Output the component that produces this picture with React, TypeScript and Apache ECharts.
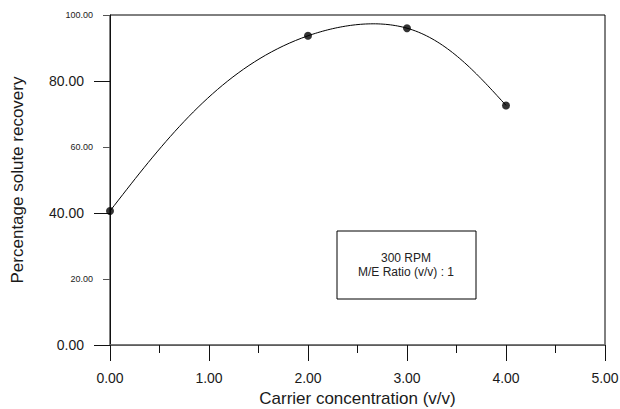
import React, { useEffect, useRef } from "react";
import * as echarts from "echarts";

const carrierConc = [0, 2, 3, 4];
const recovery = [40.6, 93.7, 96.0, 72.6];
const yMajorTicks = [0, 40, 80];
const yMinorTicks = [20, 60, 100];
const boxLines = ["300 RPM", "M/E Ratio (v/v) : 1"];
const xTitle = "Carrier concentration (v/v)";
const yTitle = "Percentage solute recovery";

const FONT = "'Liberation Sans', Arial, sans-serif";

// natural cubic spline second derivatives for knots t and values v
function naturalM(t: number[], v: number[]): number[] {
  const n = t.length;
  const M = new Array(n).fill(0);
  if (n < 3) return M;
  const h: number[] = [];
  for (let i = 0; i < n - 1; i++) h.push(t[i + 1] - t[i]);
  const a: number[] = [], b: number[] = [], c: number[] = [], d: number[] = [];
  for (let i = 1; i < n - 1; i++) {
    a.push(h[i - 1]);
    b.push(2 * (h[i - 1] + h[i]));
    c.push(h[i]);
    d.push(6 * ((v[i + 1] - v[i]) / h[i] - (v[i] - v[i - 1]) / h[i - 1]));
  }
  const m = b.length;
  for (let i = 1; i < m; i++) {
    const w = a[i] / b[i - 1];
    b[i] -= w * c[i - 1];
    d[i] -= w * d[i - 1];
  }
  const x = new Array(m).fill(0);
  x[m - 1] = d[m - 1] / b[m - 1];
  for (let i = m - 2; i >= 0; i--) x[i] = (d[i] - c[i] * x[i + 1]) / b[i];
  for (let i = 0; i < m; i++) M[i + 1] = x[i];
  return M;
}

// parametric (chord-length) natural cubic spline through pixel points
function splinePixels(pts: number[][]): number[][] {
  const t = [0];
  for (let i = 1; i < pts.length; i++) {
    const dx = pts[i][0] - pts[i - 1][0];
    const dy = pts[i][1] - pts[i - 1][1];
    t.push(t[i - 1] + Math.sqrt(dx * dx + dy * dy));
  }
  const xs = pts.map((p) => p[0]);
  const ys = pts.map((p) => p[1]);
  const Mx = naturalM(t, xs);
  const My = naturalM(t, ys);
  const out: number[][] = [];
  const evalSeg = (v: number[], M: number[], i: number, u: number, h: number) =>
    (M[i] * h * h * (1 - u) ** 3) / 6 +
    (M[i + 1] * h * h * u ** 3) / 6 +
    (v[i] - (M[i] * h * h) / 6) * (1 - u) +
    (v[i + 1] - (M[i + 1] * h * h) / 6) * u;
  for (let i = 0; i < pts.length - 1; i++) {
    const h = t[i + 1] - t[i];
    const steps = 40;
    for (let s = i === 0 ? 0 : 1; s <= steps; s++) {
      const u = s / steps;
      out.push([evalSeg(xs, Mx, i, u, h), evalSeg(ys, My, i, u, h)]);
    }
  }
  return out;
}

export default function App() {
  const ref = useRef<HTMLDivElement>(null);
  useEffect(() => {
    if (!ref.current) return;
    const chart = echarts.init(ref.current, undefined, { renderer: "svg" });
    const data = carrierConc.map((x, i) => [x, recovery[i]]);
    chart.setOption({
      animation: false,
      backgroundColor: "#ffffff",
      textStyle: { fontFamily: FONT },
      grid: {
        left: 110,
        right: 15,
        top: 15,
        bottom: 64,
        show: true,
        borderColor: "#000",
        borderWidth: 1,
        containLabel: false,
        outerBoundsMode: "none",
      },
      xAxis: [
        {
          type: "value",
          min: 0,
          max: 5,
          interval: 1,
          name: xTitle,
          nameLocation: "middle",
          nameGap: 42,
          nameTextStyle: { fontSize: 17, color: "#1a1a1a", fontFamily: FONT },
          axisLine: { show: true, lineStyle: { color: "#111", width: 1 } },
          axisTick: { show: true, length: 16, lineStyle: { color: "#111" } },
          minorTick: { show: true, splitNumber: 2, length: 8, lineStyle: { color: "#111" } },
          axisLabel: {
            margin: 26,
            fontSize: 14,
            color: "#1a1a1a",
            fontFamily: FONT,
            formatter: (v: number) => v.toFixed(2),
          },
          splitLine: { show: false },
        },
        {
          type: "value",
          position: "top",
          min: 0,
          max: 5,
          axisLine: { show: true, lineStyle: { color: "#777", width: 1.5 } },
          axisTick: { show: false },
          axisLabel: { show: false },
          splitLine: { show: false },
        },
      ],
      yAxis: [
        {
          type: "value",
          position: "left",
          min: 0,
          max: 100,
          interval: 20,
          name: yTitle,
          nameLocation: "middle",
          nameGap: 84,
          nameRotate: 90,
          nameTextStyle: { fontSize: 17, color: "#1a1a1a", fontFamily: FONT },
          axisLine: { show: true, lineStyle: { color: "#111", width: 1 } },
          axisTick: { show: true, length: 7, customValues: yMinorTicks, lineStyle: { color: "#555" } },
          axisLabel: {
            customValues: yMinorTicks,
            margin: 17,
            fontSize: 9,
            color: "#222",
            fontFamily: FONT,
            formatter: (v: number) => v.toFixed(2),
          },
          splitLine: { show: false },
        },
        {
          type: "value",
          position: "left",
          offset: 0,
          min: 0,
          max: 100,
          interval: 20,
          axisLine: { show: false },
          axisTick: { show: true, length: 16, customValues: yMajorTicks, lineStyle: { color: "#111" } },
          axisLabel: {
            customValues: yMajorTicks,
            margin: 26,
            fontSize: 14,
            color: "#1a1a1a",
            fontFamily: FONT,
            formatter: (v: number) => v.toFixed(2),
          },
          splitLine: { show: false },
        },
      ],
      series: [
        {
          type: "custom",
          data,
          clip: false,
          renderItem: (params: any, api: any) => {
            if (params.dataIndex !== 0) return null;
            const pix = carrierConc.map((x, i) => api.coord([x, recovery[i]]));
            const pts = splinePixels(pix);
            return {
              type: "polyline",
              shape: { points: pts },
              style: { stroke: "#000", lineWidth: 1, fill: "none" },
              silent: true,
            };
          },
          z: 2,
        },
        {
          type: "scatter",
          data,
          clip: false,
          symbol: "circle",
          symbolSize: 8,
          itemStyle: { color: "#000" },
          z: 3,
        },
      ],
      graphic: [
        {
          type: "rect",
          shape: { x: 337, y: 231, width: 139, height: 68 },
          style: { fill: "#fff", stroke: "#000", lineWidth: 1 },
          z: 10,
        },
        {
          type: "text",
          x: 406,
          y: 258,
          style: {
            text: boxLines[0],
            fontSize: 12,
            fontFamily: FONT,
            fill: "#222",
            align: "center",
            verticalAlign: "middle",
          },
          z: 11,
        },
        {
          type: "text",
          x: 406,
          y: 272,
          style: {
            text: boxLines[1],
            fontSize: 12,
            fontFamily: FONT,
            fill: "#222",
            align: "center",
            verticalAlign: "middle",
          },
          z: 11,
        },
      ],
    });
    return () => chart.dispose();
  }, []);
  return (
    <div
      ref={ref}
      style={{ position: "fixed", left: 0, top: 0, width: 620, height: 409, background: "#fff" }}
    />
  );
}
